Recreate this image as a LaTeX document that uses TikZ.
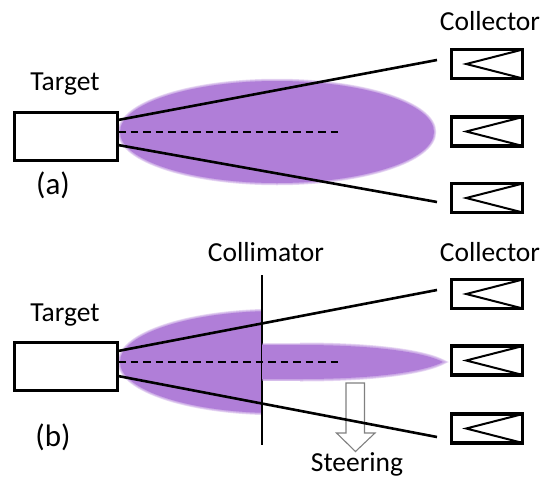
\documentclass[tikz,border=0pt]{standalone}
\usepackage{fontspec}
\setmainfont{Carlito}
\usetikzlibrary{calc}
\definecolor{plume}{RGB}{176,126,216}
\definecolor{arrowgray}{RGB}{128,128,128}
\begin{document}
\begin{tikzpicture}[x=1pt,y=-1pt,
  caption/.style={font=\fontsize{27.5}{30}\selectfont, inner sep=0pt, anchor=base},
  panel tag/.style={font=\fontsize{31}{34}\selectfont, inner sep=0pt, anchor=base},
  target box/.style={draw, line width=3.3pt, fill=white, minimum width=103pt, minimum height=48pt, inner sep=0pt},
  collector box/.style={draw, line width=3.3pt, fill=white, minimum width=71pt, minimum height=29pt, inner sep=0pt},
  ray/.style={line width=2.6pt},
  axis/.style={line width=2.6pt, dash pattern=on 7.5pt off 5pt},
  aperture/.style={line width=1.6pt},
  cone/.style={line width=2pt, line join=miter},
  soft edge/.style={draw=plume, line width=#1, opacity=0.3},
  steer arrow/.style={draw=arrowgray, fill=white, line width=1.1pt, line join=miter}
]
\useasboundingbox (0,0) rectangle (544,477);

% ---------- (a) free plume ----------
\fill[plume] (277,132) ellipse [x radius=157pt, y radius=51pt];
\foreach \w in {4.5pt,3pt,1.5pt}
  \path[soft edge=\w] (277,132) ellipse [x radius=157pt, y radius=51pt];

% ---------- (b) collimated plume ----------
\begin{scope}
  \clip (0,0) rectangle (262,477);
  \fill[plume] (277,362) ellipse [x radius=157pt, y radius=51pt];
  \foreach \w in {4.5pt,3pt,1.5pt}
    \path[soft edge=\w] (277,362) ellipse [x radius=157pt, y radius=51pt];
\end{scope}

\coordinate (col-top) at (262,275);
\coordinate (col-bot) at (262,445);
\draw[aperture] (col-top) -- (col-bot);

\begin{scope}
  \clip (262,0) rectangle (544,477);
  \fill[plume] (262,345) -- (300,345) .. controls (385,345) and (428,354) .. (443,362)
    .. controls (428,370) and (385,379) .. (300,379) -- (262,379) -- cycle;
  \foreach \w in {5pt,3.5pt,2pt}
    \path[soft edge=\w] (300,345) .. controls (385,345) and (428,354) .. (443,362)
      .. controls (428,370) and (385,379) .. (300,379);
  \foreach \w in {4.5pt,3pt,1.5pt}
    \path[soft edge=\w] (262,345) -- (300,345) (300,379) -- (262,379);
\end{scope}

% steering arrow
\draw[steer arrow] (346,383) -- (364.5,383) -- (364.5,433) -- (375,433) -- (355.5,451.5)
  -- (336.5,433) -- (346,433) -- cycle;

% ---------- targets ----------
\node[target box] (ta) at (66,136.7) {};
\node[target box] (tb) at (66,366.8) {};

% ---------- collectors ----------
\foreach \name/\y in {ca1/64, ca2/131.5, ca3/198, cb1/294, cb2/360.5, cb3/428.5}{
  \node[collector box] (\name) at (487,\y) {};
  \draw[cone] ([shift={(-1.8,1.8)}]\name.north east) -- ($(\name.west)!0.22!(\name.east)$)
    -- ([shift={(-1.8,-1.8)}]\name.south east);
}

% ---------- rays (a) ----------
\coordinate (a-up-s) at (118,120);
\coordinate (a-up-e) at (437,60);
\coordinate (a-ax-s) at (118,132);
\coordinate (a-ax-e) at (342,132);
\coordinate (a-lo-s) at (118,145);
\coordinate (a-lo-e) at (437,202);
\draw[ray] (a-up-s) -- (a-up-e);
\draw[ray] (a-lo-s) -- (a-lo-e);
\draw[axis] (a-ax-s) -- (a-ax-e);

% ---------- rays (b) ----------
\coordinate (b-up-s) at (118,351);
\coordinate (b-up-e) at (437,290);
\coordinate (b-ax-s) at (118,362);
\coordinate (b-ax-e) at (342,362);
\coordinate (b-lo-s) at (118,376);
\coordinate (b-lo-e) at (437,437);
\draw[ray] (b-up-s) -- (b-up-e);
\draw[ray] (b-lo-s) -- (b-lo-e);
\draw[axis] (b-ax-s) -- (b-ax-e);

% ---------- labels ----------
\node[caption] (ta-lbl) at (65,90) {Target};
\node[caption] (tb-lbl) at (65,321) {Target};
\node[panel tag] (tag-a) at (53,194) {(a)};
\node[panel tag] (tag-b) at (53,446) {(b)};
\node[caption] (ca-lbl) at (490,30) {Collector};
\node[caption] (cb-lbl) at (490,261) {Collector};
\node[caption] (col-lbl) at (266,261) {Collimator};
\node[caption] (steer-lbl) at (357,471) {Steering};
\end{tikzpicture}
\end{document}
